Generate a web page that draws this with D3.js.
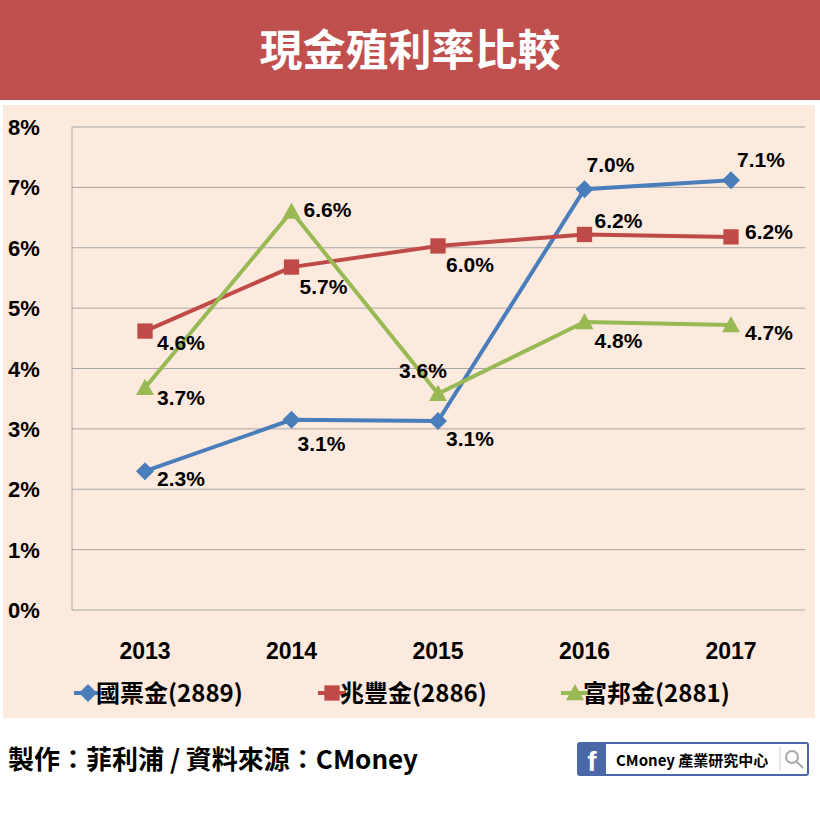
<!DOCTYPE html>
<html><head><meta charset="utf-8">
<script src="https://cdn.jsdelivr.net/npm/d3@7"></script>
<style>body{margin:0;background:#fff}svg{display:block}</style>
</head><body><svg id="c" width="820" height="820"></svg>
<script>
const years = ["2013","2014","2015","2016","2017"];
const yTicks = [0,1,2,3,4,5,6,7,8];
const seriesNames = ["國票金(2889)","兆豐金(2886)","富邦金(2881)"];
const guopiao = [2.3,3.15,3.13,6.97,7.12];
const zhaofeng = [4.62,5.68,6.03,6.22,6.18];
const fubon = [3.68,6.6,3.58,4.77,4.72];
const guopiaoLabels = ["2.3%","3.1%","3.1%","7.0%","7.1%"];
const zhaofengLabels = ["4.6%","5.7%","6.0%","6.2%","6.2%"];
const fubonLabels = ["3.7%","6.6%","3.6%","4.8%","4.7%"];
const colors = ["#4a7ebb","#be4b48","#98b954"];
const labelOffsets = [
  [[12,15],[6,31],[8,25],[2,-17],[6,-13]],
  [[12,19],[8,27],[8,26],[10,-6],[14,2]],
  [[12,17],[12,5],[-39,-16],[10,26],[14,15]]
];
const svg = d3.select("#c");
const F = "'Liberation Sans',Arial,sans-serif";
svg.append("rect").attr("width",820).attr("height",100).attr("fill","#c0504d");
svg.append("text").attr("x",410).attr("y",66).attr("text-anchor","middle").attr("fill","#fff")
  .attr("font-size",43).attr("font-weight","bold").attr("font-family","'Noto Sans CJK TC',sans-serif").text("現金殖利率比較");
svg.append("rect").attr("x",3).attr("y",105).attr("width",812).attr("height",613).attr("fill","#fdeade");
const x = d3.scalePoint().domain(years).range([145,731]);
const y = d3.scaleLinear().domain([0,8]).range([610,127]);
const g = svg.append("g");
g.selectAll(".grid").data(yTicks).join("line").attr("x1",72).attr("x2",805)
  .attr("y1",d=>y(d)).attr("y2",d=>y(d)).attr("stroke","#a6a6a6").attr("stroke-width",1);
g.append("line").attr("x1",72).attr("x2",72).attr("y1",127).attr("y2",610).attr("stroke","#a6a6a6");
g.selectAll(".yl").data(yTicks).join("text").attr("x",8).attr("y",d=>y(d)+8)
  .attr("font-size",22).attr("font-weight","bold").attr("font-family",F).text(d=>d+"%");
g.selectAll(".xl").data(years).join("text").attr("x",d=>x(d)).attr("y",659).attr("text-anchor","middle")
  .attr("font-size",23).attr("font-weight","bold").attr("font-family",F).text(d=>d);
const data = [guopiao,zhaofeng,fubon], labels=[guopiaoLabels,zhaofengLabels,fubonLabels];
const line = d3.line().x((d,i)=>x(years[i])).y(d=>y(d));
function marker(sel,k,s){
  if(k===0) sel.append("path").attr("d",`M0,${-s}L${s},0L0,${s}L${-s},0Z`);
  else if(k===1) sel.append("rect").attr("x",-s*0.85).attr("y",-s*0.85).attr("width",s*1.7).attr("height",s*1.7);
  else sel.append("path").attr("d",`M0,${-s}L${s},${s*0.8}L${-s},${s*0.8}Z`);
}
data.forEach((arr,k)=>{
  g.append("path").datum(arr).attr("d",line).attr("fill","none").attr("stroke",colors[k]).attr("stroke-width",4);
  arr.forEach((v,i)=>{
    const m=g.append("g").attr("transform",`translate(${x(years[i])},${y(v)})`).attr("fill",colors[k]);
    marker(m,k,9);
  });
});
data.forEach((arr,k)=>{
  arr.forEach((v,i)=>{
    g.append("text").attr("x",x(years[i])+labelOffsets[k][i][0]).attr("y",y(v)+labelOffsets[k][i][1])
     .attr("font-size",21).attr("font-weight","bold").attr("font-family",F).text(labels[k][i]);
  });
});
const lx=[88,332,575];
seriesNames.forEach((n,k)=>{
  const m=svg.append("g").attr("transform",`translate(${lx[k]},693)`).attr("fill",colors[k]);
  m.append("line").attr("x1",-14).attr("x2",14).attr("stroke",colors[k]).attr("stroke-width",4);
  marker(m,k,9);
  svg.append("text").attr("x",lx[k]+8).attr("y",702).attr("font-size",24).attr("font-weight","bold")
    .attr("font-family","'Noto Sans CJK TC',sans-serif").text(n);
});
svg.append("text").attr("x",8).attr("y",769).attr("font-size",26).attr("font-weight","bold")
  .attr("font-family","'Noto Sans CJK TC',sans-serif").text("製作：菲利浦 / 資料來源：CMoney");
const lg=svg.append("g").attr("transform","translate(578,743)");
lg.append("rect").attr("width",230).attr("height",32).attr("rx",2).attr("fill","#fff").attr("stroke","#4a67a8").attr("stroke-width",2);
lg.append("rect").attr("width",28).attr("height",32).attr("fill","#4a67a8");
lg.append("text").attr("x",14).attr("y",28).attr("text-anchor","middle").attr("fill","#fff").attr("font-size",28).attr("font-weight","bold").attr("font-family",F).text("f");
lg.append("text").attr("x",38).attr("y",23).attr("font-size",15).attr("font-weight","bold").attr("font-family","'Noto Sans CJK TC',sans-serif").text("CMoney 產業研究中心");
lg.append("line").attr("x1",202).attr("x2",202).attr("y1",4).attr("y2",28).attr("stroke","#ccc");
lg.append("circle").attr("cx",214).attr("cy",14).attr("r",6).attr("fill","none").attr("stroke","#aaa").attr("stroke-width",2);
lg.append("line").attr("x1",218).attr("y1",18).attr("x2",225).attr("y2",25).attr("stroke","#aaa").attr("stroke-width",2);
</script></body></html>
